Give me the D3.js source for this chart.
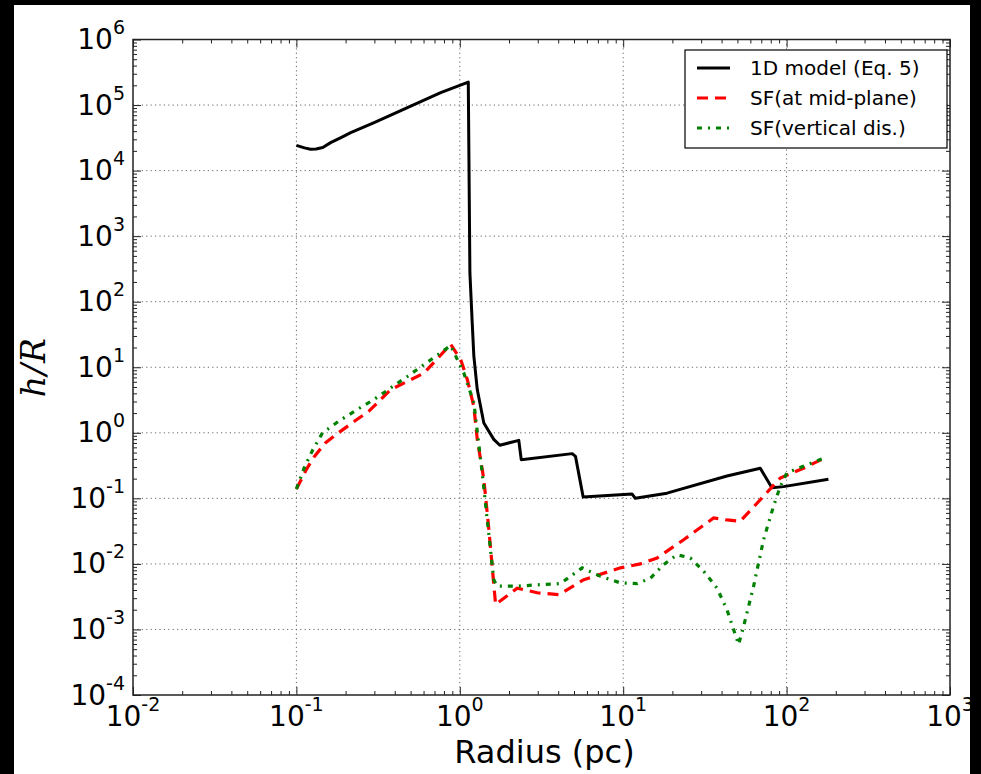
<!DOCTYPE html>
<html>
<head>
<meta charset="utf-8">
<script src="https://cdn.jsdelivr.net/npm/d3@7"></script>
<style>
  html, body { margin: 0; padding: 0; background: #000; }
  svg { display: block; }
  text { font-family: "DejaVu Sans", sans-serif; fill: #000; }
</style>
</head>
<body>
<svg id="chart" width="981" height="774"></svg>
<script>
// ---------------- DATA ----------------
const xTickExps = [-2, -1, 0, 1, 2, 3];
const yTickExps = [-4, -3, -2, -1, 0, 1, 2, 3, 4, 5, 6];

const seriesNames = ["1D model (Eq. 5)", "SF(at mid-plane)", "SF(vertical dis.)"];

// 1D model (Eq. 5)
const modelR = [0.100, 0.112, 0.122, 0.132, 0.145, 0.162, 0.190, 0.215, 0.299, 0.478, 0.764, 1.127,
                1.153, 1.191, 1.219, 1.279, 1.403, 1.614, 1.758, 2.296, 2.377, 4.875, 5.105,
                5.689, 11.32, 11.86, 18.54, 43.15, 69.02, 81.28, 95.72, 180.3];
const modelH = [24300, 22200, 21200, 21300, 22500, 26700, 32500, 37900, 53800, 91200, 155000, 224000,
                275, 47.9, 14.8, 4.57, 1.41, 0.794, 0.646, 0.767, 0.389, 0.481, 0.437,
                0.105, 0.117, 0.100, 0.120, 0.219, 0.288, 0.145, 0.151, 0.195];

// SF (at mid-plane)
const midR = [0.100, 0.115, 0.129, 0.151, 0.186, 0.231, 0.278, 0.378, 0.604, 0.879, 1.012,
              1.112, 1.219, 1.279, 1.403, 1.507, 1.656, 2.244, 2.979, 4.036, 5.741, 9.616,
              12.74, 16.11, 23.44, 35.73, 43.15, 52.00, 72.11, 91.41, 126.8, 176.2];
const midH = [0.139, 0.275, 0.437, 0.708, 1.05, 1.55, 2.14, 4.57, 8.13, 22.4, 13.2,
              6.46, 2.51, 0.794, 0.195, 0.0331, 0.0024, 0.00427, 0.00363, 0.00339, 0.00575, 0.00871,
              0.0100, 0.0123, 0.0234, 0.0501, 0.0468, 0.0447, 0.107, 0.204, 0.288, 0.427];

// SF (vertical dis.)
const vertR = [0.100, 0.1114, 0.126, 0.1445, 0.182, 0.231, 0.299, 0.478, 0.879, 1.059, 1.219,
               1.371, 1.472, 1.614, 1.694, 2.244, 2.979, 4.130, 5.610, 7.261, 9.616, 12.16,
               14.66, 17.70, 21.33, 25.76, 31.05, 37.50, 43.15, 50.82, 54.58, 62.81, 72.28,
               83.18, 91.41, 100.5, 126.8, 176.2];
const vertH = [0.139, 0.288, 0.550, 1.0, 1.51, 2.19, 3.24, 7.24, 21.4, 8.13, 2.88,
               0.245, 0.0468, 0.00575, 0.00457, 0.00457, 0.00479, 0.00501, 0.00871, 0.00646, 0.00513, 0.00501,
               0.00603, 0.00977, 0.0138, 0.0123, 0.00776, 0.00427, 0.0020, 0.00059, 0.00112, 0.00457, 0.0234,
               0.0759, 0.151, 0.245, 0.309, 0.427];

// ---------------- LAYOUT ----------------
const W = 981, H = 774;
const P = { l: 133, r: 950, t: 39.5, b: 695 };
const svg = d3.select("#chart");

// white figure background
svg.append("rect").attr("x", 14).attr("y", 5).attr("width", 956).attr("height", H - 5).attr("fill", "#fff");

const x = d3.scaleLog().domain([1e-2, 1e3]).range([P.l, P.r]);
const y = d3.scaleLog().domain([1e-4, 1e6]).range([P.b, P.t]);

const majorX = xTickExps.map(e => Math.pow(10, e));
const majorY = yTickExps.map(e => Math.pow(10, e));
const minorX = [], minorY = [];
for (let e = -2; e < 3; e++) for (let k = 2; k <= 9; k++) minorX.push(k * Math.pow(10, e));
for (let e = -4; e < 6; e++) for (let k = 2; k <= 9; k++) minorY.push(k * Math.pow(10, e));

// grid
const grid = svg.append("g").attr("stroke", "#666").attr("stroke-width", 1).attr("stroke-dasharray", "1.2,3.2");
grid.selectAll(".gx").data(majorX.slice(1, -1)).join("line")
  .attr("x1", d => x(d)).attr("x2", d => x(d)).attr("y1", P.t).attr("y2", P.b);
grid.selectAll(".gy").data(majorY.slice(1, -1)).join("line")
  .attr("y1", d => y(d)).attr("y2", d => y(d)).attr("x1", P.l).attr("x2", P.r);

// axes ticks (inside, all four sides)
function addAxis(gen, tx, ty) {
  const g = svg.append("g").attr("transform", `translate(${tx},${ty})`).call(gen);
  g.select(".domain").remove();
  g.selectAll("text").remove();
  g.selectAll("line").attr("stroke", "#222").attr("stroke-width", 1);
  return g;
}
addAxis(d3.axisBottom(x).tickValues(majorX).tickSize(-8).tickFormat(""), 0, P.b);
addAxis(d3.axisBottom(x).tickValues(minorX).tickSize(-4).tickFormat(""), 0, P.b);
addAxis(d3.axisTop(x).tickValues(majorX).tickSize(-8).tickFormat(""), 0, P.t);
addAxis(d3.axisTop(x).tickValues(minorX).tickSize(-4).tickFormat(""), 0, P.t);
addAxis(d3.axisLeft(y).tickValues(majorY).tickSize(-8).tickFormat(""), P.l, 0);
addAxis(d3.axisLeft(y).tickValues(minorY).tickSize(-4).tickFormat(""), P.l, 0);
addAxis(d3.axisRight(y).tickValues(majorY).tickSize(-8).tickFormat(""), P.r, 0);
addAxis(d3.axisRight(y).tickValues(minorY).tickSize(-4).tickFormat(""), P.r, 0);

// lines
const lineGen = d3.line().x(d => x(d[0])).y(d => y(d[1]));
const plot = svg.append("g");
plot.append("path").datum(d3.zip(modelR, modelH)).attr("d", lineGen)
  .attr("fill", "none").attr("stroke", "#000").attr("stroke-width", 3).attr("stroke-linejoin", "round");
plot.append("path").datum(d3.zip(midR, midH)).attr("d", lineGen)
  .attr("fill", "none").attr("stroke", "#ff0000").attr("stroke-width", 3.2).attr("stroke-dasharray", "11,7");
plot.append("path").datum(d3.zip(vertR, vertH)).attr("d", lineGen)
  .attr("fill", "none").attr("stroke", "#008000").attr("stroke-width", 3.2).attr("stroke-dasharray", "5,6,2,6");

// spines
svg.append("rect").attr("x", P.l).attr("y", P.t).attr("width", P.r - P.l).attr("height", P.b - P.t)
  .attr("fill", "none").attr("stroke", "#222").attr("stroke-width", 1.5);

// tick labels
function powLabel(sel, e) {
  sel.append("tspan").text("10");
  sel.append("tspan").attr("font-size", 19).attr("dy", -15).text(e < 0 ? "-" + (-e) : String(e));
}
xTickExps.forEach(e => {
  const t = svg.append("text").attr("x", x(Math.pow(10, e))).attr("y", 726)
    .attr("text-anchor", "middle").attr("font-size", 28);
  powLabel(t, e);
});
yTickExps.forEach(e => {
  const t = svg.append("text").attr("x", 125).attr("y", y(Math.pow(10, e)) + 9.5)
    .attr("text-anchor", "end").attr("font-size", 28);
  powLabel(t, e);
});

// axis titles
svg.append("text").attr("x", (P.l + P.r) / 2 + 3).attr("y", 763).attr("text-anchor", "middle")
  .attr("font-size", 32).text("Radius (pc)");
svg.append("text").attr("transform", `translate(45,${(P.t + P.b) / 2}) rotate(-90)`)
  .attr("text-anchor", "middle").attr("font-size", 33).attr("font-style", "italic")
  .style("font-family", "'DejaVu Serif', 'Liberation Serif', serif").attr("letter-spacing", 1)
  .text("h/R");

// legend
const leg = svg.append("g");
leg.append("rect").attr("x", 685).attr("y", 50).attr("width", 262).attr("height", 98)
  .attr("fill", "#fff").attr("stroke", "#000").attr("stroke-width", 1.2);
const legStyles = [
  { c: "#000", dash: null },
  { c: "#ff0000", dash: "11,7" },
  { c: "#008000", dash: "5,6,2,6" }
];
const legRows = [68, 98, 128];
seriesNames.forEach((name, i) => {
  const ln = leg.append("line").attr("x1", 697).attr("x2", 730).attr("y1", legRows[i]).attr("y2", legRows[i])
    .attr("stroke", legStyles[i].c).attr("stroke-width", 3);
  if (legStyles[i].dash) ln.attr("stroke-dasharray", legStyles[i].dash);
  leg.append("text").attr("x", 750).attr("y", legRows[i] + 7).attr("font-size", 20).text(name);
});

// black frame overlays (clip right edge)
svg.append("rect").attr("x", 970).attr("y", 0).attr("width", 11).attr("height", H).attr("fill", "#000");
svg.append("rect").attr("x", 0).attr("y", 0).attr("width", 14).attr("height", H).attr("fill", "#000");
svg.append("rect").attr("x", 0).attr("y", 0).attr("width", W).attr("height", 5).attr("fill", "#000");
</script>
</body>
</html>
